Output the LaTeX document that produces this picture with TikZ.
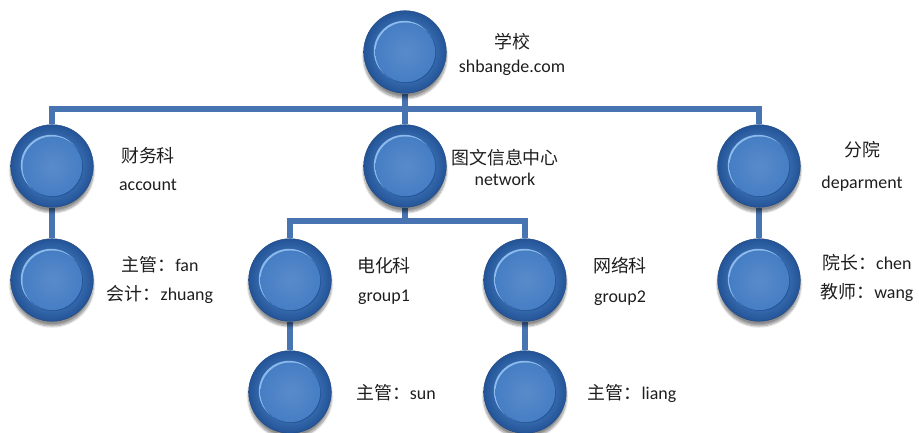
\documentclass[tikz,border=0pt]{standalone}
\usepackage{fontspec}
\setmainfont{Carlito}
\newfontfamily\cjk{Noto Sans CJK SC}
\usetikzlibrary{positioning, shadows.blur, backgrounds}

\definecolor{ballmid}{RGB}{70,126,196}
\definecolor{ballcore}{RGB}{96,156,224}
\definecolor{balledge}{RGB}{36,84,152}
\definecolor{balllight}{RGB}{140,186,236}
\definecolor{barblue}{RGB}{72,116,178}
\definecolor{txt}{RGB}{30,30,30}

\newcommand{\zh}[1]{{\cjk #1}}

\begin{document}
\begin{tikzpicture}[
        x=0.03cm, y=-0.03cm,
        ball/.style={circle, minimum size=2.48cm, inner sep=0pt, draw=balledge!80!black, line width=0.3pt,
          inner color=ballcore, outer color=balledge,
          blur shadow={shadow xshift=0pt, shadow yshift=-0.14cm, shadow blur steps=10, shadow opacity=45},
          path picture={
            \fill[balllight] ([xshift=-0.025cm,yshift=0.025cm]path picture bounding box.center) circle (0.91cm);
            \fill[balledge] ([xshift=0.03cm,yshift=-0.03cm]path picture bounding box.center) circle (0.9cm);
            \shade[inner color=ballmid!90!white, outer color=ballmid] ([xshift=0.01cm,yshift=-0.01cm]path picture bounding box.center) circle (0.895cm);
          }},
        link/.style={draw=barblue, line width=0.19cm},
        lbl/.style={align=center, text=txt, font=\fontsize{15.3}{#1}\selectfont},
        lbl/.default=25.5pt
    ]
    \useasboundingbox (0,0) rectangle (919,433);

    % balls
    \node[ball] (root) at (405,52) {};
    \node[ball] (acct) at (52,166) {};
    \node[ball] (net) at (405,166) {};
    \node[ball] (dept) at (759,166) {};
    \node[ball] (acctstaff) at (52,280) {};
    \node[ball] (media) at (290,280) {};
    \node[ball] (web) at (525,280) {};
    \node[ball] (deptstaff) at (759,280) {};
    \node[ball] (mediahead) at (290,392) {};
    \node[ball] (webhead) at (525,392) {};

    % joints of the bars
    \coordinate (bar1) at (405,109);
    \coordinate (bar2) at (405,221);

    % connectors
    \begin{scope}[on background layer]
        \draw[link] (acct) |- (bar1) -| (dept);
        \draw[link] (root) -- (net);
        \draw[link] (acct) -- (acctstaff);
        \draw[link] (dept) -- (deptstaff);
        \draw[link] (net) -- (bar2);
        \draw[link] (media) |- (bar2) -| (web);
        \draw[link] (media) -- (mediahead);
        \draw[link] (web) -- (webhead);
    \end{scope}

    % labels
    \node[lbl=20.4pt] (rootlbl) at (512,54) {\zh{学校}\\shbangde.com};
    \node[lbl=23.8pt] (acctlbl) at (148,169) {\zh{财务科}\\account};
    \node[lbl=17.9pt] (netlbl) at (505,167) {\zh{图文信息中心}\\network};
    \node[lbl=27.2pt] (deptlbl) at (862,166) {\zh{分院}\\deparment};
    \node[lbl] (acctstafflbl) at (160,280) {\zh{主管：}fan\\\zh{会计：}zhuang};
    \node[lbl] (medialbl) at (384,281) {\zh{电化科}\\group1};
    \node[lbl] (weblbl) at (620,281) {\zh{网络科}\\group2};
    \node[lbl] (deptstafflbl) at (867,278) {\zh{院长：}chen\\\zh{教师：}wang};
    \node[lbl] (mediaheadlbl) at (396,393) {\zh{主管：}sun};
    \node[lbl] (webheadlbl) at (632,393) {\zh{主管：}liang};

\end{tikzpicture}
\end{document}
